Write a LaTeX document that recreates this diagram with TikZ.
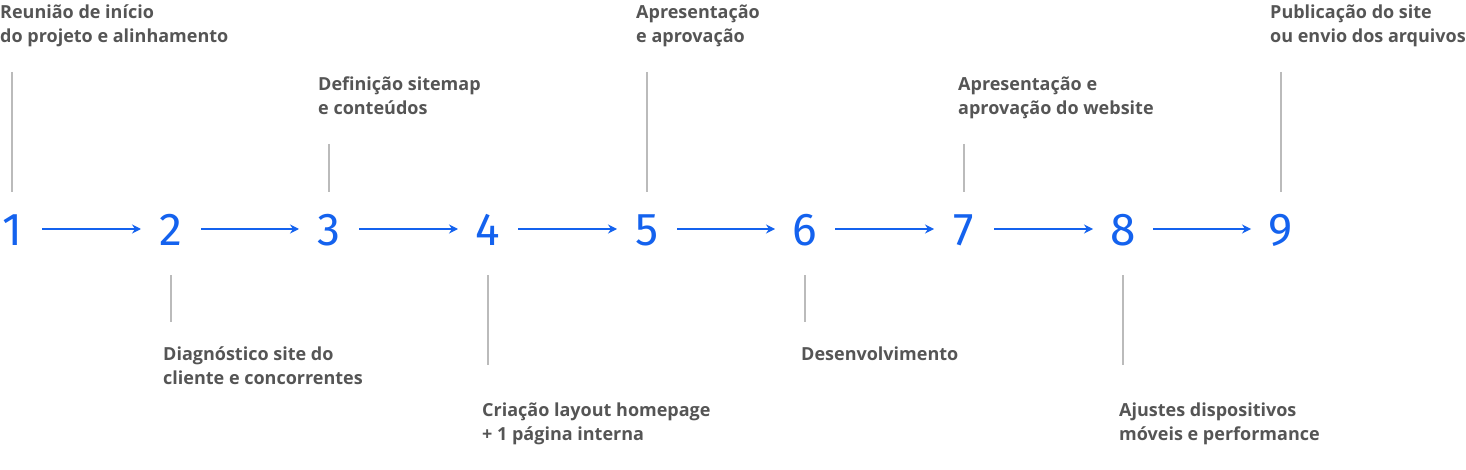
\documentclass[tikz,border=0pt]{standalone}
\usepackage{fontspec}
\setmainfont{Open Sans}
\newfontfamily\numfont{Fira Sans}
\usetikzlibrary{arrows.meta}
\definecolor{blu}{HTML}{1462EE}
\definecolor{txt}{HTML}{555555}
\definecolor{ln}{HTML}{BBBBBB}
\begin{document}
\begin{tikzpicture}[x=1pt,y=-1pt,
  num/.style={font=\numfont\fontsize{46}{46}\selectfont, text=blu, inner sep=0pt, anchor=center},
  lbl/.style={font=\bfseries\fontsize{18}{24}\selectfont, text=txt, align=left, inner sep=0pt, anchor=north west},
  conn/.style={blu, line width=2.2pt, -{Stealth[length=9pt,width=9pt]}},
  tick/.style={ln, line width=1.5pt}]
\useasboundingbox (0,0) rectangle (1466,470);
\foreach \i/\x in {1/12,2/171,3/329,4/488,5/647,6/805,7/964,8/1123,9/1281}{
  \node[num] (n\i) at (\x,230) {\i};
  \coordinate (a\i) at (\x-30,229);
  \coordinate (b\i) at (\x+30,229);
}
\foreach \i/\j in {1/2,2/3,3/4,4/5,5/6,6/7,7/8,8/9}{
  \draw[conn] (b\i) -- (a\j);
}
\foreach \x/\t in {12/72,329/144,647/72,964/144,1281/72}{
  \coordinate (t1) at (\x,\t); \coordinate (t2) at (\x,192);
  \draw[tick] (t1) -- (t2);
}
\foreach \x/\b in {171/322,488/365,805/322,1123/365}{
  \coordinate (t1) at (\x,275); \coordinate (t2) at (\x,\b);
  \draw[tick] (t1) -- (t2);
}
\node[lbl] (l1) at (0,5) {Reunião de início\\do projeto e alinhamento};
\node[lbl] (l3) at (318,77) {Definição sitemap\\e conteúdos};
\node[lbl] (l5) at (636,5) {Apresentação\\e aprovação};
\node[lbl] (l7) at (958,77) {Apresentação e\\aprovação do website};
\node[lbl] (l9) at (1270,5) {Publicação do site\\ou envio dos arquivos};
\node[lbl] (l2) at (163,347) {Diagnóstico site do\\cliente e concorrentes};
\node[lbl] (l4) at (482,403) {Criação layout homepage\\+ 1 página interna};
\node[lbl] (l6) at (801,347) {Desenvolvimento};
\node[lbl] (l8) at (1119,403) {Ajustes dispositivos\\móveis e performance};
\end{tikzpicture}
\end{document}
